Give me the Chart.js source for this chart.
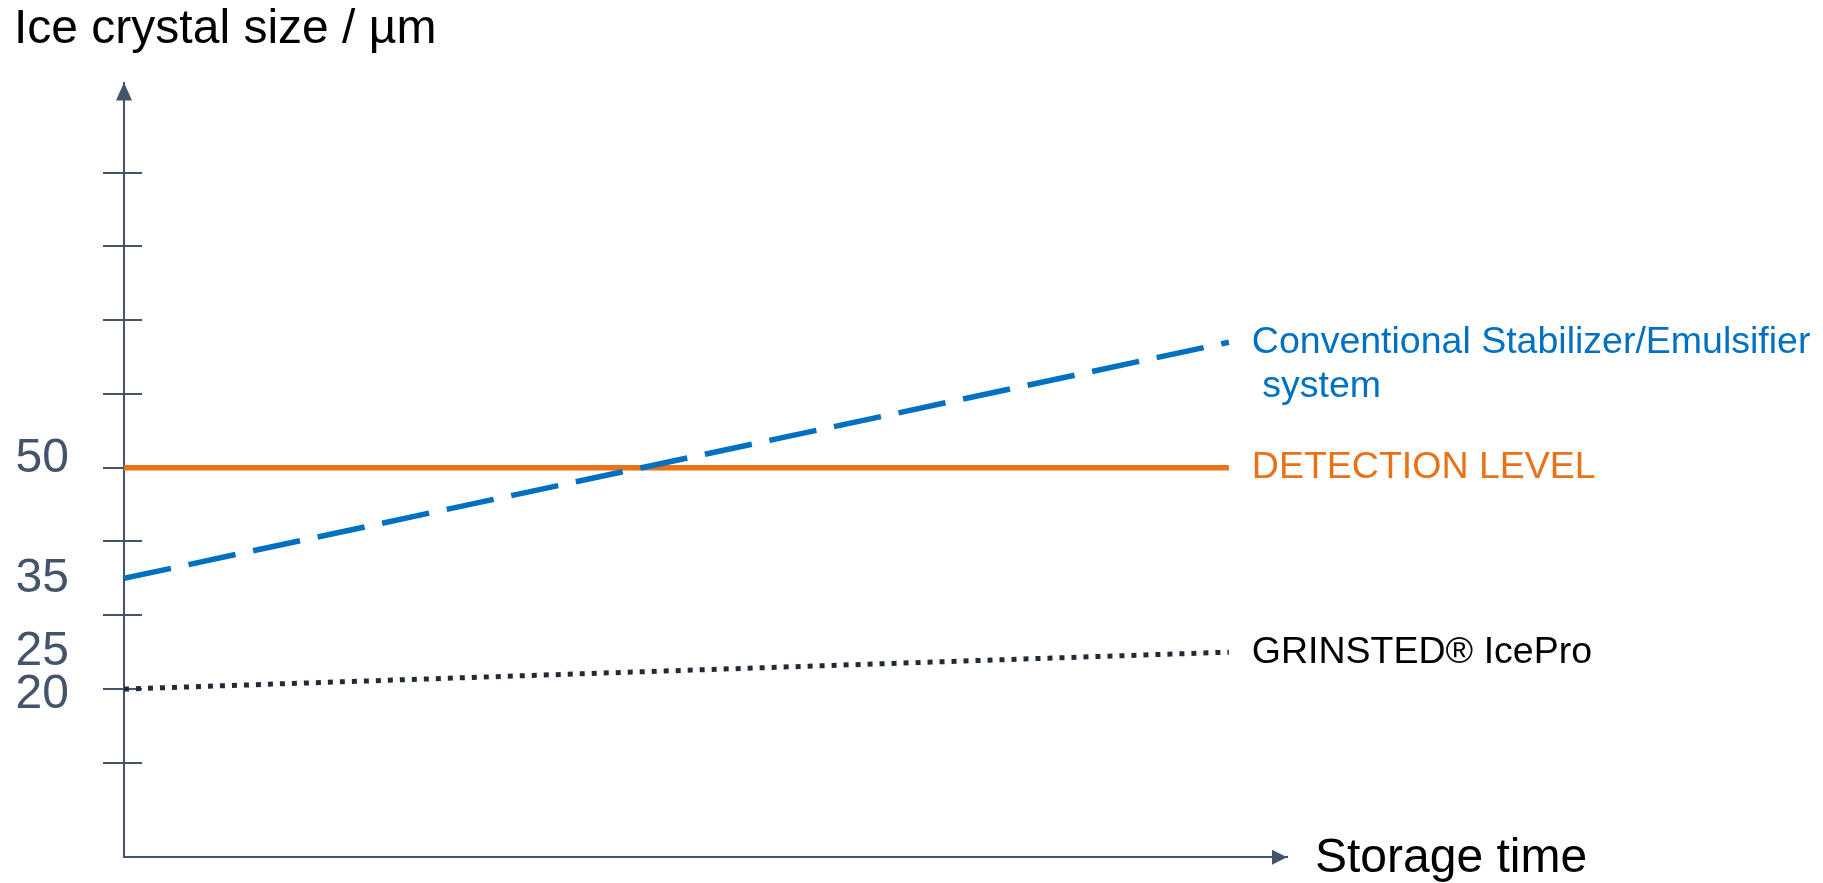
<!DOCTYPE html>
<html>
<head>
<meta charset="utf-8">
<title>Ice crystal size vs storage time</title>
<script src="https://cdn.jsdelivr.net/npm/chart.js@4.4.1/dist/chart.umd.min.js"></script>
<style>
  html, body { margin: 0; padding: 0; background: #ffffff; }
  #wrap { position: relative; width: 1823px; height: 883px; }
</style>
</head>
<body>
<div id="wrap"><canvas id="chart"></canvas></div>
<script>
// Storage time (relative units) at the start and end of each line
const storageTime = [0, 95];

// Ice crystal size in µm
const conventionalSize = [35, 67];
const detectionLevel = [50, 50];
const iceProSize = [20, 25];

// Labelled values on the size axis, and the evenly spaced tick marks
const sizeTickLabels = [50, 35, 25, 20];
const sizeTickMarks = [10, 20, 30, 40, 50, 60, 70, 80, 90];

// Series names shown at the right-hand end of each line
const conventionalName = ['Conventional Stabilizer/Emulsifier', ' system'];
const detectionName = ['DETECTION LEVEL'];
const iceProName = ['GRINSTED\u00AE IcePro'];

const yTitle = 'Ice crystal size / \u00B5m';
const xTitle = 'Storage time';

const AXIS = '#44546A';
const BLUE = '#0070C0';
const ORANGE = '#E97116';
const DARK = '#222A35';
const FONT = '"Liberation Sans", Arial, sans-serif';

// Small vertical nudges (px) for axis labels that sit just off their tick
const labelNudge = { 50: -8.5, 20: 6 };

const toPoints = (ys) => storageTime.map((t, i) => ({ x: t, y: ys[i] }));

// Crossing tick marks, axis arrowheads, axis titles and end-of-line labels
const decorations = {
  id: 'decorations',
  beforeDatasetsDraw(chart) {
    const { ctx, chartArea, scales } = chart;
    const y = scales.y;
    ctx.save();
    ctx.strokeStyle = AXIS;
    ctx.lineWidth = 2;
    sizeTickMarks.forEach((v) => {
      const py = Math.round(y.getPixelForValue(v));
      ctx.beginPath();
      ctx.moveTo(chartArea.left - 21, py);
      ctx.lineTo(chartArea.left + 18, py);
      ctx.stroke();
    });
    ctx.restore();
  },
  afterDatasetsDraw(chart) {
    const { ctx, chartArea } = chart;
    ctx.save();
    ctx.fillStyle = AXIS;
    // arrow on the size axis
    ctx.beginPath();
    ctx.moveTo(chartArea.left, chartArea.top);
    ctx.lineTo(chartArea.left - 8, chartArea.top + 18);
    ctx.lineTo(chartArea.left + 8, chartArea.top + 18);
    ctx.closePath();
    ctx.fill();
    // arrow on the time axis
    ctx.beginPath();
    ctx.moveTo(chartArea.right, chartArea.bottom);
    ctx.lineTo(chartArea.right - 15, chartArea.bottom - 7.5);
    ctx.lineTo(chartArea.right - 15, chartArea.bottom + 7.5);
    ctx.closePath();
    ctx.fill();

    // axis titles
    ctx.fillStyle = '#000000';
    ctx.font = '48px ' + FONT;
    ctx.textAlign = 'left';
    ctx.textBaseline = 'alphabetic';
    ctx.fillText(yTitle, 14, 43);
    ctx.fillText(xTitle, chartArea.right + 28, chartArea.bottom + 15);

    // series names next to the last point of each line
    ctx.font = '37.5px ' + FONT;
    ctx.textBaseline = 'middle';
    chart.data.datasets.forEach((ds, i) => {
      const meta = chart.getDatasetMeta(i);
      const last = meta.data[meta.data.length - 1];
      ctx.fillStyle = ds.labelColor;
      ds.endLabel.forEach((line, k) => {
        ctx.fillText(line, last.x + 23, last.y + k * 44.5);
      });
    });
    ctx.restore();
  }
};

new Chart(document.getElementById('chart'), {
  type: 'line',
  data: {
    datasets: [
      {
        label: conventionalName.join(''),
        data: toPoints(conventionalSize),
        borderColor: BLUE,
        borderWidth: 5.5,
        borderDash: [48, 18],
        endLabel: conventionalName,
        labelColor: BLUE
      },
      {
        label: detectionName.join(''),
        data: toPoints(detectionLevel),
        borderColor: ORANGE,
        borderWidth: 5.5,
        endLabel: detectionName,
        labelColor: ORANGE
      },
      {
        label: iceProName.join(''),
        data: toPoints(iceProSize),
        borderColor: DARK,
        borderWidth: 5,
        borderDash: [5, 7],
        endLabel: iceProName,
        labelColor: '#000000'
      }
    ]
  },
  options: {
    responsive: true,
    maintainAspectRatio: false,
    animation: false,
    events: [],
    layout: { padding: { top: 82.5, bottom: 25.7, left: 0, right: 536 } },
    elements: { point: { radius: 0 }, line: { tension: 0, borderCapStyle: 'butt' } },
    plugins: { legend: { display: false }, tooltip: { enabled: false }, title: { display: false } },
    scales: {
      x: {
        type: 'linear',
        min: 0,
        max: 100,
        ticks: { display: false },
        grid: { display: false, drawTicks: false },
        border: { display: true, color: AXIS, width: 2 },
        afterFit(scale) { scale.height = 0; }
      },
      y: {
        type: 'linear',
        min: -2.8,
        max: 102.2,
        afterBuildTicks(scale) { scale.ticks = sizeTickLabels.map((v) => ({ value: v })); },
        ticks: {
          autoSkip: false,
          color: AXIS,
          padding: 55,
          font: (ctx) => {
            const nudge = ctx.tick ? labelNudge[ctx.tick.value] : undefined;
            return { family: FONT, size: 48, lineHeight: nudge ? Math.abs(nudge) * 2 + 'px' : 1.2 };
          },
          callback: (v) => {
            const nudge = labelNudge[v];
            if (!nudge) return String(v);
            return nudge < 0 ? [String(v), ''] : ['', String(v)];
          }
        },
        grid: { display: false, drawTicks: false },
        border: { display: true, color: AXIS, width: 2 },
        afterFit(scale) {
          scale.width = 124;
          scale.paddingTop = 0;
          scale.paddingBottom = 0;
        }
      }
    }
  },
  plugins: [decorations]
});
</script>
</body>
</html>
